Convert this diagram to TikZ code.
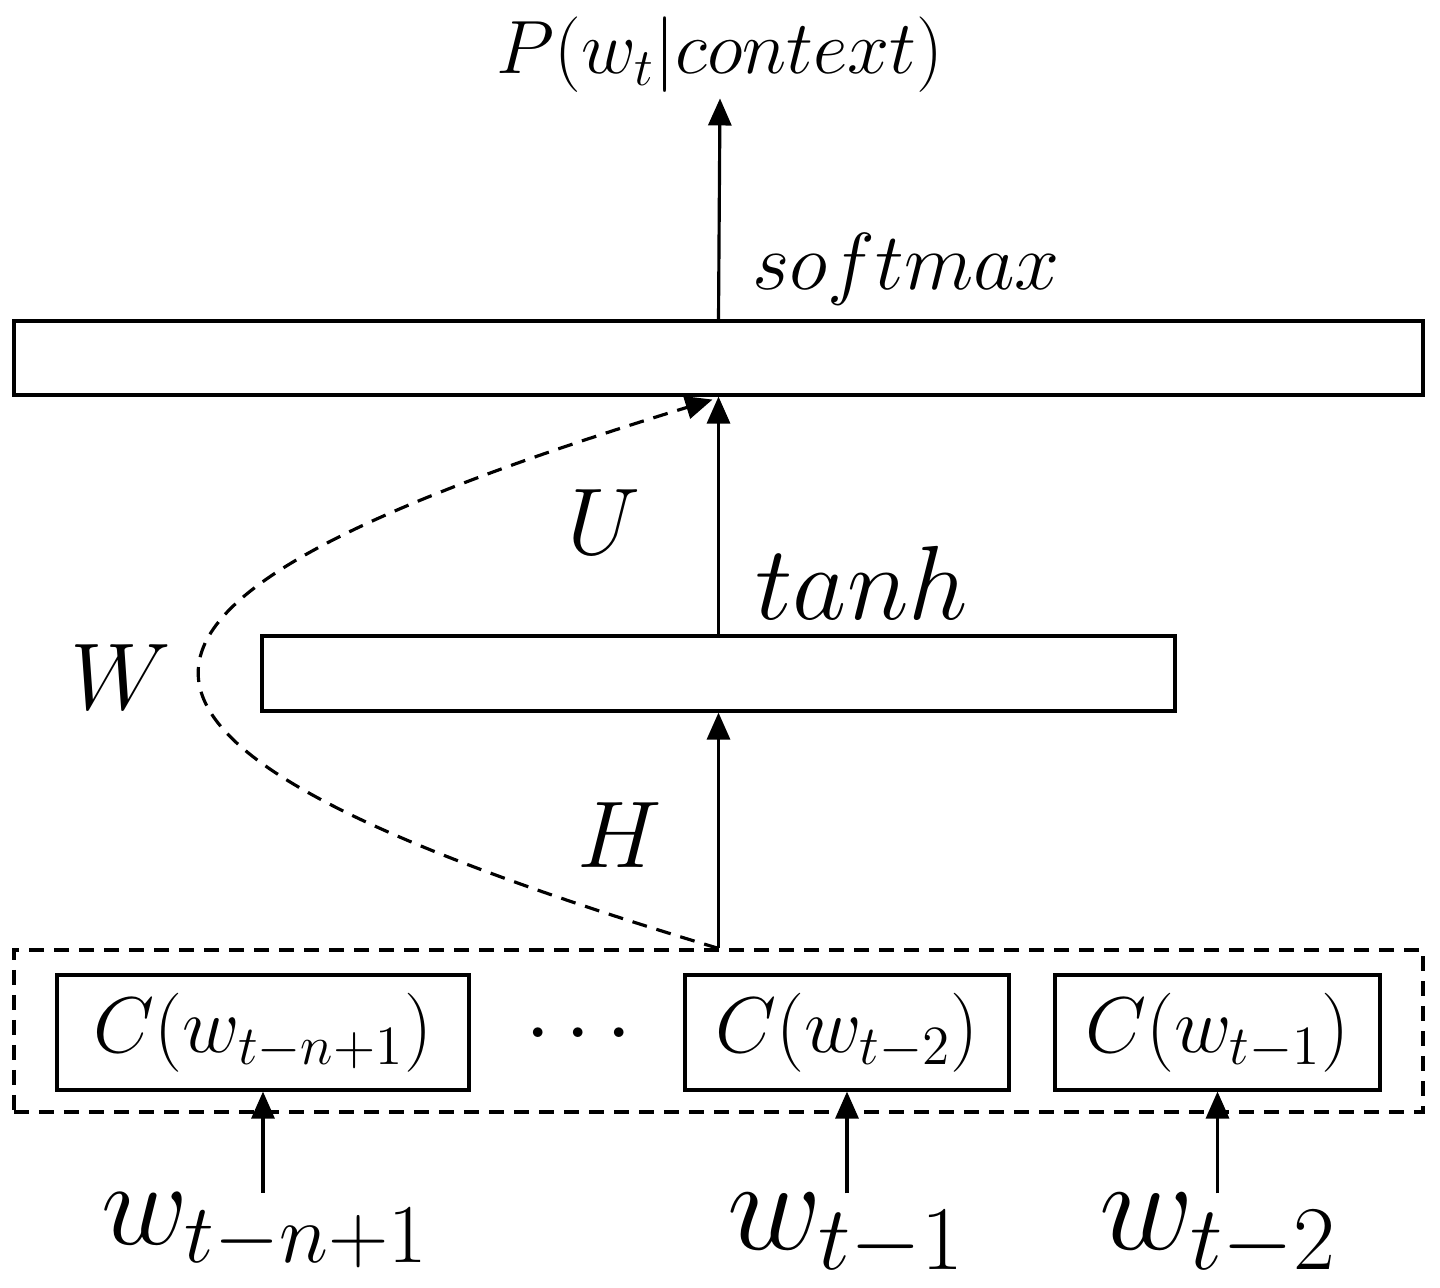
\documentclass[tikz,border=0pt]{standalone}
\usepackage{fix-cm}
\usepackage{amsmath}
\usetikzlibrary{arrows.meta,positioning}
\tikzset{
    layer/.style={draw,line width=0.9pt,minimum height=7.4mm,inner sep=0pt},
    embed/.style={draw,line width=0.9pt,minimum height=11.5mm,inner sep=0pt,font=\fontsize{22.5}{27}\selectfont},
    wlabel/.style={anchor=base,inner sep=0pt,font=\fontsize{37}{44}\selectfont},
    mlabel/.style={anchor=base,inner sep=0pt,font=\fontsize{27}{32}\selectfont},
    flow/.style={-{Triangle[length=2.7mm,width=2.3mm]},line width=0.9pt},
    dashy/.style={dash pattern=on 1.5mm off 1mm,line width=0.9pt},
}
\begin{document}
\begin{tikzpicture}
    \useasboundingbox (0,0) rectangle (14.4,12.88);
    % layers
    \node[layer,minimum width=140.9mm] (out) at (7.185,9.30) {};
    \node[layer,minimum width=91.3mm,minimum height=7.5mm] (hid) at (7.185,6.145) {};
    \node[draw,dashy,minimum width=140.9mm,minimum height=16.2mm,inner sep=0pt] (ctx) at (7.185,2.57) {};
    % embeddings of the context words
    \node[embed,minimum width=41.2mm] (cn1) at (2.63,2.555) {$C(w_{t-n+1})$};
    \node[font=\fontsize{26}{31}\selectfont] (dots) at (5.86,2.53) {$\cdots$};
    \node[embed,minimum width=32.4mm] (c2) at (8.47,2.555) {$C(w_{t-2})$};
    \node[embed,minimum width=32.5mm] (c1) at (12.175,2.555) {$C(w_{t-1})$};
    % input words
    \node[wlabel,font=\fontsize{34}{41}\selectfont] (wn1) at (2.65,0.43) {$w_{t-n+1}$};
    \node[wlabel] (w1) at (8.46,0.38) {$w_{t-1}$};
    \node[wlabel] (w2) at (12.18,0.38) {$w_{t-2}$};
    \draw[flow] (cn1.south |- wn1.north) -- (cn1.south);
    \draw[flow] (c2.south |- w1.north) -- (c2.south);
    \draw[flow] (c1.south |- w2.north) -- (c1.south);
    % output
    \node[inner sep=0.5mm,font=\fontsize{21.5}{26}\selectfont] (prob) at (7.20,12.33) {$P(w_t|context)$};
    \draw[flow] (ctx.north) -- (hid.south);
    \draw[flow] (hid.north) -- (out.south);
    \draw[flow] (out.north) -- (prob.south);
    \draw[dashy,-{Triangle[length=2.7mm,width=2.3mm]}] (ctx.north) .. controls (0.30,5.47) and (0.30,6.79) .. ([xshift=-0.6mm,yshift=-0.3mm]out.south);
    % weights and activations
    \node[mlabel,anchor=base west,font=\fontsize{23}{28}\selectfont] (smax) at (7.52,9.98) {$softmax$};
    \node[mlabel,anchor=base west,font=\fontsize{30}{36}\selectfont] (tanh) at (7.55,6.68) {$tanh$};
    \node[mlabel] (ulbl) at (6.04,7.33) {$U$};
    \node[mlabel] (hlbl) at (6.20,4.20) {$H$};
    \node[mlabel] (wlbl) at (1.21,5.78) {$W$};
\end{tikzpicture}
\end{document}
